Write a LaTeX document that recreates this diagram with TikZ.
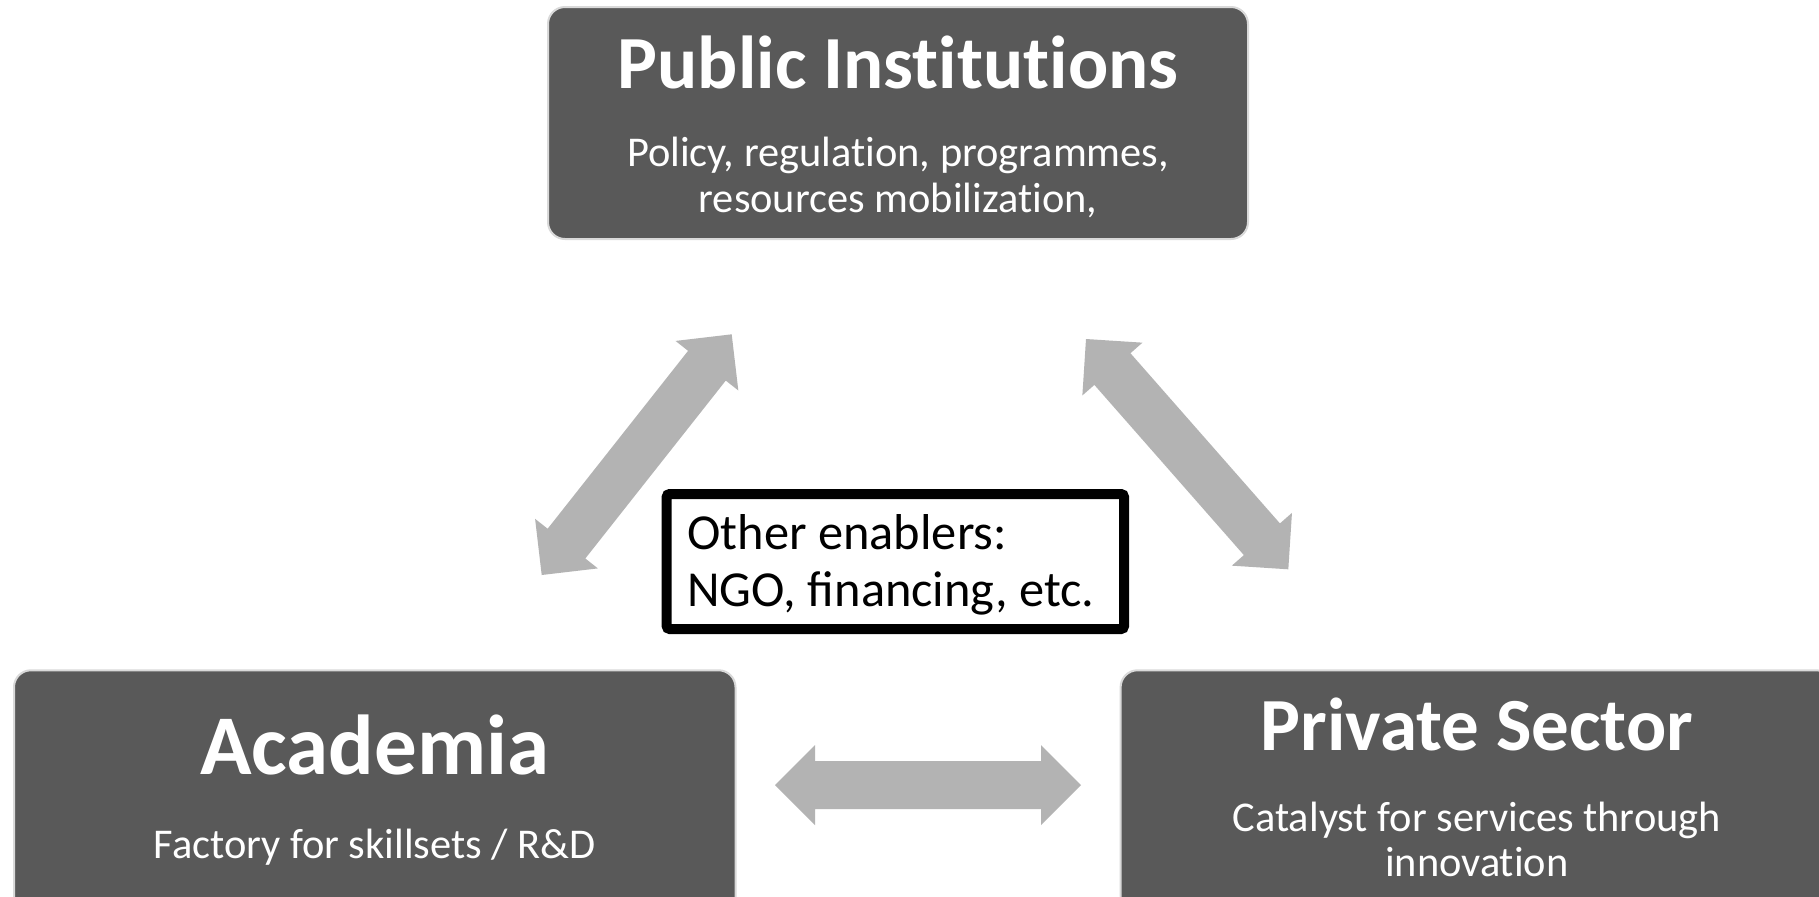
\documentclass[tikz,border=0pt]{standalone}
\usepackage{fontspec}
\setmainfont{Carlito}[Ligatures=NoCommon]
\newfontfamily\enablerfont{Carlito}
\usetikzlibrary{calc}
\definecolor{boxgray}{HTML}{595959}
\definecolor{arrowgray}{HTML}{B3B3B3}
\definecolor{edgegray}{HTML}{D9D9D9}
\tikzset{
  bigbox/.style={draw=edgegray, line width=1pt, fill=boxgray, rounded corners=8.5pt, inner sep=0pt},
  enabler/.style={draw=black, line width=5pt, fill=white, rounded corners=1.5pt, inner sep=0pt},
  titletext/.style={text=white, font=\bfseries\fontsize{37.5}{40}\selectfont, anchor=base, inner sep=0pt},
  acadtitle/.style={text=white, font=\bfseries\fontsize{42.5}{45}\selectfont, anchor=base, inner sep=0pt},
  subtext/.style={text=white, font=\fontsize{21.2}{23}\selectfont, anchor=base, inner sep=0pt},
  enablertext/.style={text=black, font=\enablerfont\fontsize{25.2}{29}\selectfont, anchor=base west, inner sep=0pt},
  blockarrow/.style={fill=arrowgray}
}
\newcommand{\dblarrow}[2]{%
  \fill[blockarrow] (#1)
    -- ($(#1)!20pt!(#2)!20pt!90:(#2)$)
    -- ($(#1)!20pt!(#2)!12pt!90:(#2)$)
    -- ($(#2)!20pt!(#1)!12pt!-90:(#1)$)
    -- ($(#2)!20pt!(#1)!20pt!-90:(#1)$)
    -- (#2)
    -- ($(#2)!20pt!(#1)!20pt!90:(#1)$)
    -- ($(#2)!20pt!(#1)!12pt!90:(#1)$)
    -- ($(#1)!20pt!(#2)!12pt!-90:(#2)$)
    -- ($(#1)!20pt!(#2)!20pt!-90:(#2)$)
    -- cycle;}
\begin{document}
\begin{tikzpicture}[x=0.5pt,y=-0.5pt]
\useasboundingbox (0,0) rectangle (1819,896);
\clip (0,0) rectangle (1819,896);
\fill[white] (0,0) rectangle (1819,896);

% main boxes
\node[bigbox, minimum width=350pt, minimum height=116pt] (pub) at (898,123) {};
\node[bigbox, minimum width=360.75pt, minimum height=129.75pt] (acad) at (374.75,800) {};
\node[bigbox, minimum width=356.2pt, minimum height=129.75pt] (priv) at (1476.8,800) {};

% texts
\node[titletext] (pubtitle) at (898,88) {Public Institutions};
\node[subtext] (pubsub1) at (898,166) {Policy, regulation, programmes,};
\node[subtext] (pubsub2) at (898,212) {resources mobilization,};

\node[acadtitle] (acadtitle) at (374.75,774) {Academia};
\node[subtext] (acadsub) at (374.75,858) {Factory for skillsets / R\&D};

\node[titletext] (privtitle) at (1476.8,750) {Private Sector};
\node[subtext] (privsub1) at (1476.8,831) {Catalyst for services through};
\node[subtext] (privsub2) at (1476.8,876) {innovation};

% enablers box
\node[enabler, minimum width=228.65pt, minimum height=67.5pt] (other) at (895.35,561.5) {};
\node[enablertext] (oth1) at (687,549) {Other enablers:};
\node[enablertext] (oth2) at (687,606) {NGO, financing, etc.};

% block arrows
\coordinate (la) at (541.7,575);
\coordinate (lb) at (731.7,334.3);
\coordinate (ra) at (1086,339);
\coordinate (rb) at (1288.3,569.3);
\coordinate (ha) at (775,785);
\coordinate (hb) at (1081,785);
\dblarrow{la}{lb}
\dblarrow{ra}{rb}
\dblarrow{ha}{hb}
\end{tikzpicture}
\end{document}
